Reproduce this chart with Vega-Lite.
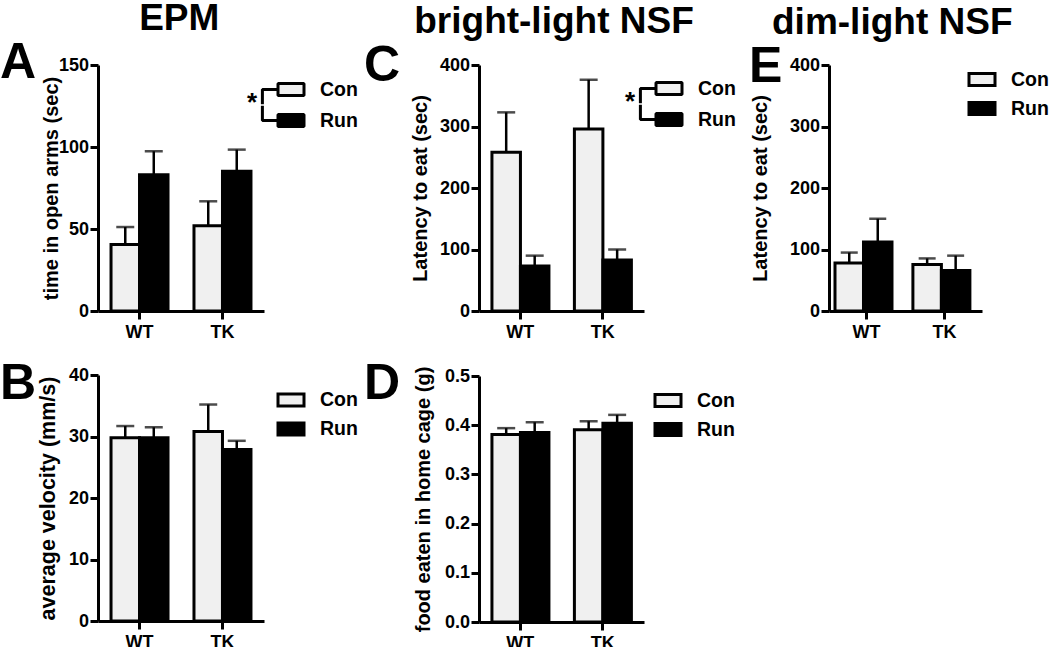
{
  "$schema": "https://vega.github.io/schema/vega-lite/v6.json",
  "padding": {"left": 0, "top": 0, "right": 0, "bottom": 0},
  "background": "white",
  "datasets": {
    "d": [
      {"panel": "A", "genotype": "WT", "group": "Con", "mean": 40.5, "err": 51.2},
      {"panel": "A", "genotype": "WT", "group": "Run", "mean": 83.1, "err": 97.4},
      {"panel": "A", "genotype": "TK", "group": "Con", "mean": 52.0, "err": 66.9},
      {"panel": "A", "genotype": "TK", "group": "Run", "mean": 85.2, "err": 98.4},
      {"panel": "B", "genotype": "WT", "group": "Con", "mean": 29.8, "err": 31.7},
      {"panel": "B", "genotype": "WT", "group": "Run", "mean": 29.8, "err": 31.5},
      {"panel": "B", "genotype": "TK", "group": "Con", "mean": 30.8, "err": 35.2},
      {"panel": "B", "genotype": "TK", "group": "Run", "mean": 27.9, "err": 29.3},
      {"panel": "C", "genotype": "WT", "group": "Con", "mean": 258, "err": 323},
      {"panel": "C", "genotype": "WT", "group": "Run", "mean": 73, "err": 90},
      {"panel": "C", "genotype": "TK", "group": "Con", "mean": 296, "err": 376},
      {"panel": "C", "genotype": "TK", "group": "Run", "mean": 83, "err": 100},
      {"panel": "D", "genotype": "WT", "group": "Con", "mean": 0.381, "err": 0.394},
      {"panel": "D", "genotype": "WT", "group": "Run", "mean": 0.385, "err": 0.406},
      {"panel": "D", "genotype": "TK", "group": "Con", "mean": 0.391, "err": 0.408},
      {"panel": "D", "genotype": "TK", "group": "Run", "mean": 0.404, "err": 0.421},
      {"panel": "E", "genotype": "WT", "group": "Con", "mean": 78, "err": 95},
      {"panel": "E", "genotype": "WT", "group": "Run", "mean": 112, "err": 150},
      {"panel": "E", "genotype": "TK", "group": "Con", "mean": 75.5, "err": 85.5},
      {"panel": "E", "genotype": "TK", "group": "Run", "mean": 66, "err": 90}
    ]
  },
  "config": {
    "font": "Liberation Sans",
    "view": {"stroke": null},
    "axis": {
      "domainColor": "black", "domainWidth": 3, "tickColor": "black", "tickWidth": 3, "tickSize": 8,
      "labelFont": "Liberation Sans", "labelFontWeight": "bold", "labelFontSize": 18, "labelColor": "black",
      "titleFont": "Liberation Sans", "titleFontWeight": "bold", "titleFontSize": 20, "titleColor": "black",
      "grid": false
    },
    "axisX": {"labelAngle": 0, "labelPadding": 4, "title": null},
    "axisY": {"labelPadding": 1.5},
    "legend": {
      "orient": "none", "padding": 0,
      "symbolType": "M-1,-0.46H1V0.46H-1Z", "symbolSize": 676,
      "symbolStrokeColor": "black", "symbolStrokeWidth": 3,
      "labelFont": "Liberation Sans", "labelFontSize": 19.5, "labelFontWeight": "bold", "labelColor": "black",
      "labelOffset": 14.5, "rowPadding": 2,
      "titleFont": "Liberation Sans", "titleFontSize": 26, "titleFontWeight": "bold", "titleColor": "black",
      "titleOrient": "left", "titleAnchor": "middle"
    },
    "title": {"font": "Liberation Sans", "fontWeight": "bold", "color": "black"}
  },
  "resolve": {"scale": {"fill": "independent"}, "legend": {"fill": "independent"}},
  "spacing": 5,
  "hconcat": [
    {
      "title": {"text": "EPM", "fontSize": 37, "anchor": "middle", "offset": 0},
      "spacing": 18,
      "resolve": {"scale": {"fill": "independent"}, "legend": {"fill": "independent"}},
      "vconcat": [
        {
          "width": 166, "height": 246,
          "title": {"text": "A", "anchor": "start", "frame": "group", "fontSize": 50, "baseline": "alphabetic", "align": "left", "dx": -98, "offset": -72},
          "data": {"name": "d"},
          "transform": [{"filter": "datum.panel === 'A'"}],
          "encoding": {
            "x": {"field": "genotype", "type": "nominal", "sort": ["WT", "TK"], "scale": {"paddingInner": 0.313, "paddingOuter": 0.157}},
            "xOffset": {"field": "group", "type": "nominal", "sort": ["Con", "Run"]}
          },
          "layer": [
            {
              "mark": {"type": "bar", "stroke": "black", "strokeWidth": 3},
              "encoding": {
                "y": {"field": "mean", "type": "quantitative", "scale": {"domain": [0, 150], "nice": false}, "axis": {"values": [0, 50, 100, 150], "title": "time in open arms (sec)", "titleX": -37, "titleY": 123}},
                "fill": {"field": "group", "type": "nominal", "scale": {"domain": ["Con", "Run"], "range": ["#f0f0f0", "#000000"]},
                  "legend": {"title": "*", "titlePadding": 18.5, "legendX": 149, "legendY": 10, "rowPadding": -6,
                    "encode": {"symbols": {"update": {"strokeJoin": {"value": "bevel"}, "shape": {"signal": "datum.value === 'Con' ? 'M-1,-0.46H1V0.46H-1Z M-1,0H-2.2V1.13V0H-1' : 'M-1,-0.46H1V0.46H-1Z M-1,0H-2.2V-1.13V0H-1'"}}}}}}
              }
            },
            {"mark": {"type": "rule", "strokeWidth": 2.5, "color": "black"}, "encoding": {"y": {"field": "mean", "type": "quantitative"}, "y2": {"field": "err"}}},
            {"mark": {"type": "tick", "thickness": 2.5, "size": 18, "color": "black"}, "encoding": {"y": {"field": "err", "type": "quantitative"}}}
          ]
        },
        {
          "width": 166, "height": 246,
          "title": {"text": "B", "anchor": "start", "frame": "group", "fontSize": 50, "baseline": "alphabetic", "align": "left", "dx": -98, "offset": -83},
          "data": {"name": "d"},
          "transform": [{"filter": "datum.panel === 'B'"}],
          "encoding": {
            "x": {"field": "genotype", "type": "nominal", "sort": ["WT", "TK"], "scale": {"paddingInner": 0.313, "paddingOuter": 0.157}},
            "xOffset": {"field": "group", "type": "nominal", "sort": ["Con", "Run"]}
          },
          "layer": [
            {
              "mark": {"type": "bar", "stroke": "black", "strokeWidth": 3},
              "encoding": {
                "y": {"field": "mean", "type": "quantitative", "scale": {"domain": [0, 40], "nice": false}, "axis": {"values": [0, 10, 20, 30, 40], "title": "average velocity (mm/s)", "titleFontSize": 21.5, "titleX": -38.5, "titleY": 123}},
                "fill": {"field": "group", "type": "nominal", "scale": {"domain": ["Con", "Run"], "range": ["#f0f0f0", "#000000"]},
                  "legend": {"title": null, "legendX": 178.5, "legendY": 10.5}}
              }
            },
            {"mark": {"type": "rule", "strokeWidth": 2.5, "color": "black"}, "encoding": {"y": {"field": "mean", "type": "quantitative"}, "y2": {"field": "err"}}},
            {"mark": {"type": "tick", "thickness": 2.5, "size": 18, "color": "black"}, "encoding": {"y": {"field": "err", "type": "quantitative"}}}
          ]
        }
      ]
    },
    {
      "title": {"text": "bright-light NSF", "fontSize": 37, "anchor": "middle", "offset": 0},
      "spacing": 18,
      "resolve": {"scale": {"fill": "independent"}, "legend": {"fill": "independent"}},
      "vconcat": [
        {
          "width": 165, "height": 246,
          "title": {"text": "C", "anchor": "start", "frame": "group", "fontSize": 50, "baseline": "alphabetic", "align": "left", "dx": -115, "offset": -75},
          "data": {"name": "d"},
          "transform": [{"filter": "datum.panel === 'C'"}],
          "encoding": {
            "x": {"field": "genotype", "type": "nominal", "sort": ["WT", "TK"], "scale": {"paddingInner": 0.313, "paddingOuter": 0.157}},
            "xOffset": {"field": "group", "type": "nominal", "sort": ["Con", "Run"]}
          },
          "layer": [
            {
              "mark": {"type": "bar", "stroke": "black", "strokeWidth": 3},
              "encoding": {
                "y": {"field": "mean", "type": "quantitative", "scale": {"domain": [0, 400], "nice": false}, "axis": {"values": [0, 100, 200, 300, 400], "title": "Latency to eat (sec)", "titleX": -49, "titleY": 123}},
                "fill": {"field": "group", "type": "nominal", "scale": {"domain": ["Con", "Run"], "range": ["#f0f0f0", "#000000"]},
                  "legend": {"title": "*", "titlePadding": 18.5, "legendX": 138, "legendY": 1, "rowPadding": -6, "padding": 8,
                    "encode": {"symbols": {"update": {"strokeJoin": {"value": "bevel"}, "shape": {"signal": "datum.value === 'Con' ? 'M-1,-0.46H1V0.46H-1Z M-1,0H-2.2V1.13V0H-1' : 'M-1,-0.46H1V0.46H-1Z M-1,0H-2.2V-1.13V0H-1'"}}}}}}
              }
            },
            {"mark": {"type": "rule", "strokeWidth": 2.5, "color": "black"}, "encoding": {"y": {"field": "mean", "type": "quantitative"}, "y2": {"field": "err"}}},
            {"mark": {"type": "tick", "thickness": 2.5, "size": 18, "color": "black"}, "encoding": {"y": {"field": "err", "type": "quantitative"}}}
          ]
        },
        {
          "width": 165, "height": 246,
          "title": {"text": "D", "anchor": "start", "frame": "group", "fontSize": 50, "baseline": "alphabetic", "align": "left", "dx": -115, "offset": -83},
          "data": {"name": "d"},
          "transform": [{"filter": "datum.panel === 'D'"}],
          "encoding": {
            "x": {"field": "genotype", "type": "nominal", "sort": ["WT", "TK"], "scale": {"paddingInner": 0.313, "paddingOuter": 0.157}},
            "xOffset": {"field": "group", "type": "nominal", "sort": ["Con", "Run"]}
          },
          "layer": [
            {
              "mark": {"type": "bar", "stroke": "black", "strokeWidth": 3},
              "encoding": {
                "y": {"field": "mean", "type": "quantitative", "scale": {"domain": [0, 0.5], "nice": false}, "axis": {"values": [0, 0.1, 0.2, 0.3, 0.4, 0.5], "format": ".1f", "title": "food eaten in home cage (g)", "titleX": -46, "titleY": 123}},
                "fill": {"field": "group", "type": "nominal", "scale": {"domain": ["Con", "Run"], "range": ["#f0f0f0", "#000000"]},
                  "legend": {"title": null, "legendX": 166.5, "legendY": 2, "padding": 8}}
              }
            },
            {"mark": {"type": "rule", "strokeWidth": 2.5, "color": "black"}, "encoding": {"y": {"field": "mean", "type": "quantitative"}, "y2": {"field": "err"}}},
            {"mark": {"type": "tick", "thickness": 2.5, "size": 18, "color": "black"}, "encoding": {"y": {"field": "err", "type": "quantitative"}}}
          ]
        }
      ]
    },
    {
      "title": {"text": "dim-light NSF", "fontSize": 37, "anchor": "middle", "dx": -7, "offset": 0},
      "resolve": {"scale": {"fill": "independent"}, "legend": {"fill": "independent"}},
      "vconcat": [
        {
          "width": 153, "height": 246,
          "title": {"text": "E", "anchor": "start", "frame": "group", "fontSize": 50, "baseline": "alphabetic", "align": "left", "dx": -80, "offset": -76},
          "data": {"name": "d"},
          "transform": [{"filter": "datum.panel === 'E'"}],
          "encoding": {
            "x": {"field": "genotype", "type": "nominal", "sort": ["WT", "TK"], "scale": {"paddingInner": 0.19, "paddingOuter": 0.077}},
            "xOffset": {"field": "group", "type": "nominal", "sort": ["Con", "Run"]}
          },
          "layer": [
            {
              "mark": {"type": "bar", "stroke": "black", "strokeWidth": 3},
              "encoding": {
                "y": {"field": "mean", "type": "quantitative", "scale": {"domain": [0, 400], "nice": false}, "axis": {"values": [0, 100, 200, 300, 400], "title": "Latency to eat (sec)", "titleX": -59, "titleY": 123}},
                "fill": {"field": "group", "type": "nominal", "scale": {"domain": ["Con", "Run"], "range": ["#f0f0f0", "#000000"]},
                  "legend": {"title": null, "legendX": 138.5, "legendY": 0}}
              }
            },
            {"mark": {"type": "rule", "strokeWidth": 2.5, "color": "black"}, "encoding": {"y": {"field": "mean", "type": "quantitative"}, "y2": {"field": "err"}}},
            {"mark": {"type": "tick", "thickness": 2.5, "size": 17, "color": "black"}, "encoding": {"y": {"field": "err", "type": "quantitative"}}}
          ]
        }
      ]
    }
  ]
}
